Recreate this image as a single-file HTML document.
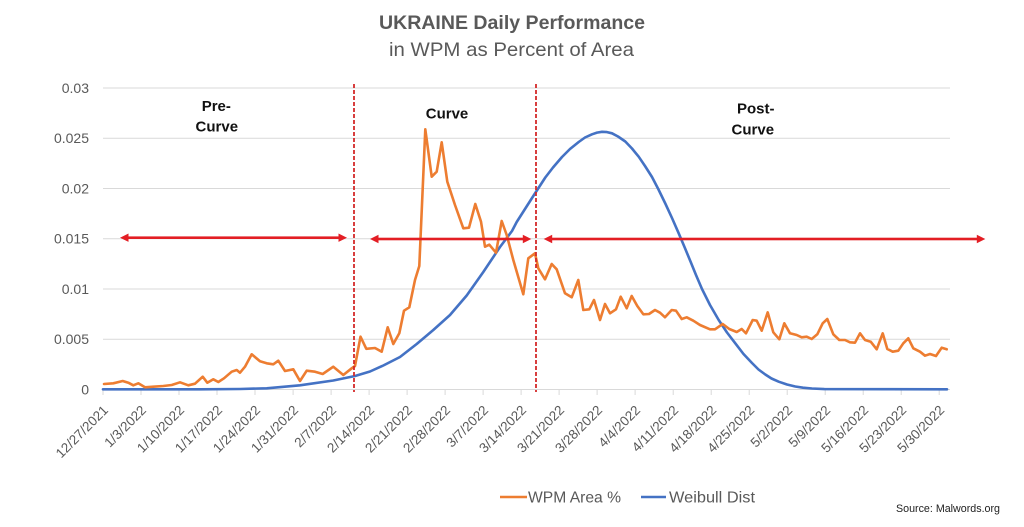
<!DOCTYPE html>
<html><head><meta charset="utf-8"><style>
html,body{margin:0;padding:0;background:#fff;}
svg{display:block;}
text{font-family:"Liberation Sans",Arial,sans-serif;}
</style></head><body>
<svg width="1024" height="527" viewBox="0 0 1024 527" xmlns="http://www.w3.org/2000/svg">
<rect width="1024" height="527" fill="#fff"/>
<!-- title -->
<text x="512" y="29" text-anchor="middle" font-size="19.5" font-weight="bold" fill="#595959" textLength="266" lengthAdjust="spacingAndGlyphs">UKRAINE Daily Performance</text>
<text x="511.5" y="56" text-anchor="middle" font-size="19.5" fill="#595959" textLength="245" lengthAdjust="spacingAndGlyphs">in WPM as Percent of Area</text>
<!-- grid -->
<g stroke="#D9D9D9" stroke-width="1">
<line x1="103" y1="88" x2="950" y2="88"/>
<line x1="103" y1="138.25" x2="950" y2="138.25"/>
<line x1="103" y1="188.5" x2="950" y2="188.5"/>
<line x1="103" y1="238.75" x2="950" y2="238.75"/>
<line x1="103" y1="289" x2="950" y2="289"/>
<line x1="103" y1="339.25" x2="950" y2="339.25"/>
<line x1="103" y1="389.5" x2="950" y2="389.5"/>
</g>
<!-- ticks -->
<g stroke="#D9D9D9" stroke-width="1">
<line x1="103" y1="389.5" x2="103" y2="395"/>
<line x1="141" y1="389.5" x2="141" y2="395"/>
<line x1="179" y1="389.5" x2="179" y2="395"/>
<line x1="217" y1="389.5" x2="217" y2="395"/>
<line x1="255" y1="389.5" x2="255" y2="395"/>
<line x1="293.1" y1="389.5" x2="293.1" y2="395"/>
<line x1="331.1" y1="389.5" x2="331.1" y2="395"/>
<line x1="369.1" y1="389.5" x2="369.1" y2="395"/>
<line x1="407.1" y1="389.5" x2="407.1" y2="395"/>
<line x1="445.1" y1="389.5" x2="445.1" y2="395"/>
<line x1="483.1" y1="389.5" x2="483.1" y2="395"/>
<line x1="521.1" y1="389.5" x2="521.1" y2="395"/>
<line x1="559.1" y1="389.5" x2="559.1" y2="395"/>
<line x1="597.1" y1="389.5" x2="597.1" y2="395"/>
<line x1="635.1" y1="389.5" x2="635.1" y2="395"/>
<line x1="673.2" y1="389.5" x2="673.2" y2="395"/>
<line x1="711.2" y1="389.5" x2="711.2" y2="395"/>
<line x1="749.2" y1="389.5" x2="749.2" y2="395"/>
<line x1="787.2" y1="389.5" x2="787.2" y2="395"/>
<line x1="825.2" y1="389.5" x2="825.2" y2="395"/>
<line x1="863.2" y1="389.5" x2="863.2" y2="395"/>
<line x1="901.2" y1="389.5" x2="901.2" y2="395"/>
<line x1="939.2" y1="389.5" x2="939.2" y2="395"/>
</g>
<!-- y labels -->
<g font-size="14" fill="#595959" text-anchor="end">
<text x="89" y="93">0.03</text>
<text x="89" y="143.2">0.025</text>
<text x="89" y="193.5">0.02</text>
<text x="89" y="243.7">0.015</text>
<text x="89" y="294">0.01</text>
<text x="89" y="344.2">0.005</text>
<text x="89" y="394.5">0</text>
</g>
<!-- x labels -->
<g font-size="13.5" fill="#595959" text-anchor="end">
<text transform="translate(109,411) rotate(-45)">12/27/2021</text>
<text transform="translate(147,411) rotate(-45)">1/3/2022</text>
<text transform="translate(185,411) rotate(-45)">1/10/2022</text>
<text transform="translate(223,411) rotate(-45)">1/17/2022</text>
<text transform="translate(261,411) rotate(-45)">1/24/2022</text>
<text transform="translate(299.1,411) rotate(-45)">1/31/2022</text>
<text transform="translate(337.1,411) rotate(-45)">2/7/2022</text>
<text transform="translate(375.1,411) rotate(-45)">2/14/2022</text>
<text transform="translate(413.1,411) rotate(-45)">2/21/2022</text>
<text transform="translate(451.1,411) rotate(-45)">2/28/2022</text>
<text transform="translate(489.1,411) rotate(-45)">3/7/2022</text>
<text transform="translate(527.1,411) rotate(-45)">3/14/2022</text>
<text transform="translate(565.1,411) rotate(-45)">3/21/2022</text>
<text transform="translate(603.1,411) rotate(-45)">3/28/2022</text>
<text transform="translate(641.1,411) rotate(-45)">4/4/2022</text>
<text transform="translate(679.2,411) rotate(-45)">4/11/2022</text>
<text transform="translate(717.2,411) rotate(-45)">4/18/2022</text>
<text transform="translate(755.2,411) rotate(-45)">4/25/2022</text>
<text transform="translate(793.2,411) rotate(-45)">5/2/2022</text>
<text transform="translate(831.2,411) rotate(-45)">5/9/2022</text>
<text transform="translate(869.2,411) rotate(-45)">5/16/2022</text>
<text transform="translate(907.2,411) rotate(-45)">5/23/2022</text>
<text transform="translate(945.2,411) rotate(-45)">5/30/2022</text>
</g>
<!-- blue series -->
<polyline fill="none" stroke="#4472C4" stroke-width="2.6" stroke-linejoin="round" stroke-linecap="round" points="103,389.3 200,389.3 240,389 266.7,388.3 300,385.3 333.3,380.5 355,376 370,371.5 383.3,365.5 400,357 416.7,344 433.3,330 450,315 466.7,295.5 483.3,272 500,247 512,231 516.7,222 525,209 533.3,196 545.3,177.5 553,167.5 562,157 570,149 578.7,142 585,137.5 592,134.3 597,132.6 602,131.8 607,132.1 612,133.3 618,136.5 625.3,141.5 632,148.5 638.7,156.7 645,166 652,177 658.5,189.5 665.3,203.5 672,218 678.7,233.3 684.5,247 690.3,261 696,275 702,289 710,305 718.7,320 727,332.5 735.3,343.3 743.5,354 752,363 758.5,369.5 765.3,374.5 771.5,378.5 778.7,381.7 787,384.5 795.3,386.5 803,387.7 812,388.5 824.3,389.1 947,389.3"/>
<!-- orange series -->
<polyline fill="none" stroke="#ED7D31" stroke-width="2.6" stroke-linejoin="round" stroke-linecap="round" points="104,384 113.3,383.3 122.7,381 128.3,382.7 133.3,385.3 138.3,383.3 145,387.3 153.3,386.7 163.3,386 171.7,385 180,382.3 188.3,385.3 195,383.7 202.7,376.7 207.3,382.7 213.3,379.3 218.3,382 224,378.3 231.7,371.7 236.7,370 240,372.7 245,366.7 251.7,354.3 260,361.3 266.7,363.3 273.3,364.3 278.3,360.7 285,371 293.3,369.3 300,381 306.7,370.7 315,371.7 322.7,374 333.3,366.7 343.3,375 351.7,368.3 355,366 360.5,336.7 366.3,348.8 375,348 381.7,351.7 387.7,327.3 393.3,344 399.3,333.3 404,310.7 409.3,307.3 415,280 419.3,266 425.3,129.3 431.7,176.7 436.7,171.7 441.7,142.3 447.3,181.7 455,205 463.3,228.3 469,227.7 475.3,204 481,221.7 485,246.7 489.3,244.7 496,252.7 501.7,221 506.7,235 513.3,260 523.3,294.3 528.3,258.3 535,253.3 538.3,268.3 545,279.3 551.7,264 556.7,269.3 565,293.3 571.7,297.3 578.3,280 583.3,310 589.3,309.3 594,300 600,320 605,304 610,313.3 616,309.3 620.7,296.7 626.7,308.3 631.7,296 637.3,306 643.3,314.3 649,314 655,310 660,312.7 665,317.3 671.7,310 676,310.7 681.7,319 686.7,317.3 693.3,320.7 700,325 710,329.3 715,329.3 722.7,324 729.3,329 736.7,332 741.7,329 746,333.3 752.7,320 756.7,320.7 761.7,330.7 767.7,312.3 773.3,332.3 779.3,339.3 784.3,323.3 790,333.3 796.7,335 801.7,337.3 806.7,336.7 811.7,339 817.3,334.3 822.7,323.3 827.3,319 833.3,334.3 839.3,340 845,340 850,342.3 855,342.7 860,333.3 865,340 870.7,341.7 876.7,349.3 882.7,333.3 887.3,349 892.7,351.7 898.3,350.7 903.3,343.3 908.3,338.3 913.3,348.3 920,351.7 925,355.7 930,354 936,356 941.7,347.7 946.7,349.3"/>
<!-- dashed separators -->
<g stroke="#D42A2A" stroke-width="1.8" stroke-dasharray="4 2">
<line x1="354" y1="84" x2="354" y2="392"/>
<line x1="536" y1="84" x2="536" y2="392"/>
</g>
<!-- arrows -->
<g fill="#E31E24" stroke="none">
<rect x="127" y="236.4" width="213" height="2.6"/>
<polygon points="120,237.7 128.5,233.5 128.5,241.9"/>
<polygon points="347,237.7 338.5,233.5 338.5,241.9"/>
<rect x="377" y="237.7" width="147" height="2.6"/>
<polygon points="370,239 378.5,234.8 378.5,243.2"/>
<polygon points="531.3,239 522.8,234.8 522.8,243.2"/>
<rect x="551" y="237.7" width="427" height="2.6"/>
<polygon points="543.7,239 552.2,234.8 552.2,243.2"/>
<polygon points="985.3,239 976.8,234.8 976.8,243.2"/>
</g>
<!-- region labels -->
<g font-size="15" font-weight="bold" fill="#111" text-anchor="middle">
<text x="216.3" y="111">Pre-</text>
<text x="216.8" y="131.7">Curve</text>
<text x="447" y="118.3">Curve</text>
<text x="755.7" y="113.3">Post-</text>
<text x="752.8" y="134.3">Curve</text>
</g>
<!-- legend -->
<line x1="500" y1="497" x2="527" y2="497" stroke="#ED7D31" stroke-width="2.6"/>
<text x="528" y="502.7" font-size="16" fill="#595959" textLength="93" lengthAdjust="spacingAndGlyphs">WPM Area %</text>
<line x1="641" y1="497" x2="666" y2="497" stroke="#4472C4" stroke-width="2.6"/>
<text x="669" y="502.7" font-size="16" fill="#595959" textLength="86" lengthAdjust="spacingAndGlyphs">Weibull Dist</text>
<text x="896" y="512" font-size="10.7" fill="#222" textLength="104" lengthAdjust="spacingAndGlyphs">Source: Malwords.org</text>
</svg>
</body></html>
